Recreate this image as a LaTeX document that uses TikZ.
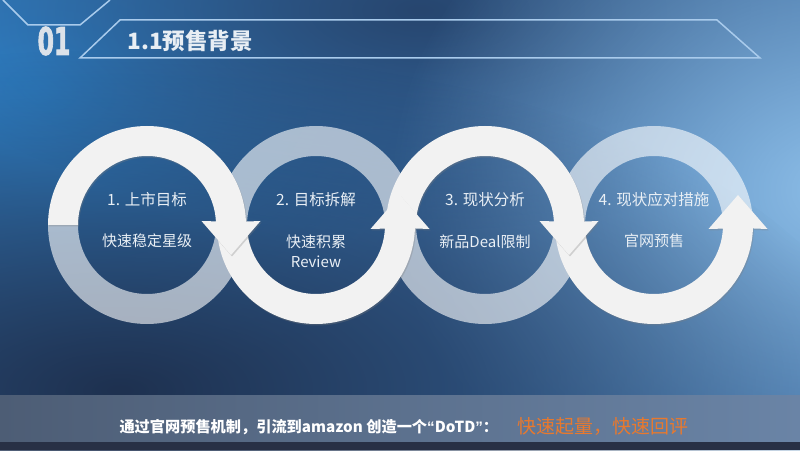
\documentclass[tikz,border=0pt]{standalone}
\usepackage{fontspec}
\setmainfont{Noto Sans CJK SC}
\newfontfamily\numfont{DejaVu Sans}[BoldFeatures={FakeBold=2.5}]
\newfontfamily\latinfont{Liberation Sans}
\usepackage{tikz}
\usetikzlibrary{positioning,calc,shadows,fadings}

\definecolor{bgbase}{HTML}{3A6CA3}
\definecolor{bgtl}{HTML}{2E86CF}
\definecolor{bgdark}{HTML}{27466F}
\definecolor{bglight}{HTML}{8BBCE6}
\definecolor{bgdeep}{HTML}{1E3150}
\definecolor{ringfill}{HTML}{F2F2F2}
\definecolor{ringtext}{HTML}{E9EFF5}
\definecolor{numcol}{HTML}{DCE2E9}
\definecolor{headtext}{HTML}{E8EEF4}
\definecolor{framecol}{HTML}{A9CBEC}
\definecolor{accent}{HTML}{E8792E}
\definecolor{barleft}{HTML}{4D5D75}
\definecolor{barmid}{HTML}{5A6C84}
\definecolor{barright}{HTML}{6A84A6}
\definecolor{barbottom}{HTML}{283045}

\tikzfading[name=glow, inner color=transparent!0, outer color=transparent!100]

\begin{document}
\begin{tikzpicture}[
    x=1pt, y=1pt,
    ringwhite/.style={fill=ringfill, drop shadow={shadow xshift=1pt, shadow yshift=-1.5pt, opacity=0.3}},
    ringpale/.style={fill=white, fill opacity=0.6},
    ringtitle/.style={text=ringtext, font=\fontsize{15.5}{18}\selectfont, align=center},
    ringsub/.style={text=ringtext, font=\fontsize{15}{20}\selectfont, align=center},
    frame/.style={draw=framecol, line width=1.5pt}
]
    \useasboundingbox (0,0) rectangle (800,450);

    \begin{scope}
        \clip (0,0) rectangle (800,450);
        \fill[bgbase] (0,0) rectangle (800,450);
        \fill[bgtl, path fading=glow] (40,360) ellipse [x radius=460, y radius=300];
        \fill[bgdark, path fading=glow] (420,440) ellipse [x radius=520, y radius=220];
        \fill[bglight, path fading=glow] (830,260) ellipse [x radius=440, y radius=380];
        \fill[bgdeep, path fading=glow] (120,60) ellipse [x radius=760, y radius=340];
    \end{scope}

    \draw[frame] (3,450) -- (28,425) -- (80,425) -- (110,450);
    \draw[frame] (120,430) -- (717,430) -- (760,392) -- (80,392) -- cycle;
    \node[font=\numfont\bfseries\fontsize{38}{38}\selectfont, text=numcol, xscale=0.62] (num) at (54,409) {01};
    \node[anchor=west, font=\bfseries\fontsize{22.5}{24}\selectfont, text=headtext] (head) at (124,409) {1.1预售背景};

    \coordinate (c1) at (147,225);
    \coordinate (c2) at (316,225);
    \coordinate (c3) at (485,225);
    \coordinate (c4) at (654,225);

    \fill[ringpale] ($(c1)+(180:99)$) arc[start angle=180, end angle=360, radius=99] -- ($(c1)+(0:69)$) arc[start angle=360, end angle=180, radius=69] -- cycle;
    \fill[ringpale] ($(c2)+(0:99)$) arc[start angle=0, end angle=180, radius=99] -- ($(c2)+(180:69)$) arc[start angle=180, end angle=0, radius=69] -- cycle;
    \fill[ringpale] ($(c3)+(180:99)$) arc[start angle=180, end angle=360, radius=99] -- ($(c3)+(0:69)$) arc[start angle=360, end angle=180, radius=69] -- cycle;
    \fill[ringpale] ($(c4)+(0:99)$) arc[start angle=0, end angle=180, radius=99] -- ($(c4)+(180:69)$) arc[start angle=180, end angle=0, radius=69] -- cycle;

    \fill[ringwhite] ($(c4)+(180:99)$) arc[start angle=180, end angle=358, radius=99] -- ($(c4)+(113.5,-4)$) -- ($(c4)+(84,30)$) -- ($(c4)+(54.5,-4)$) -- ($(c4)+(357:69)$) arc[start angle=357, end angle=180, radius=69] -- cycle;
    \fill[ringwhite] ($(c3)+(180:99)$) arc[start angle=180, end angle=2, radius=99] -- ($(c3)+(113.5,4)$) -- ($(c3)+(84,-30)$) -- ($(c3)+(54.5,4)$) -- ($(c3)+(3:69)$) arc[start angle=3, end angle=180, radius=69] -- cycle;
    \fill[ringwhite] ($(c2)+(180:99)$) arc[start angle=180, end angle=358, radius=99] -- ($(c2)+(113.5,-4)$) -- ($(c2)+(84,30)$) -- ($(c2)+(54.5,-4)$) -- ($(c2)+(357:69)$) arc[start angle=357, end angle=180, radius=69] -- cycle;
    \fill[ringwhite] ($(c1)+(180:99)$) arc[start angle=180, end angle=2, radius=99] -- ($(c1)+(113.5,4)$) -- ($(c1)+(84,-30)$) -- ($(c1)+(54.5,4)$) -- ($(c1)+(3:69)$) arc[start angle=3, end angle=180, radius=69] -- cycle;

    \node[ringtitle] (t1) at ([yshift=25pt]c1) {1. 上市目标};
    \node[ringsub] (s1) at ([yshift=-16pt]c1) {快速稳定星级};
    \node[ringtitle] (t2) at ([yshift=25pt]c2) {2. 目标拆解};
    \node[ringsub] (s2) at ([yshift=-26pt]c2) {快速积累\\Review};
    \node[ringtitle] (t3) at ([yshift=25pt]c3) {3. 现状分析};
    \node[ringsub] (s3) at ([yshift=-17pt]c3) {新品Deal限制};
    \node[ringtitle] (t4) at ([yshift=25pt]c4) {4. 现状应对措施};
    \node[ringsub] (s4) at ([yshift=-16pt]c4) {官网预售};

    \shade[left color=barleft, middle color=barmid, right color=barright] (0,8) rectangle (800,55);
    \fill[barbottom] (0,0) rectangle (800,8);
    \node[anchor=west, font=\bfseries\fontsize{15.2}{18}\selectfont, text=white] (note) at (116,23) {通过官网预售机制，引流到amazon 创造一个{\latinfont “}DoTD{\latinfont ”}：};
    \node[anchor=west, font=\fontsize{19}{22}\selectfont, text=accent] (goal) at (514,23) {快速起量，快速回评};
\end{tikzpicture}
\end{document}
